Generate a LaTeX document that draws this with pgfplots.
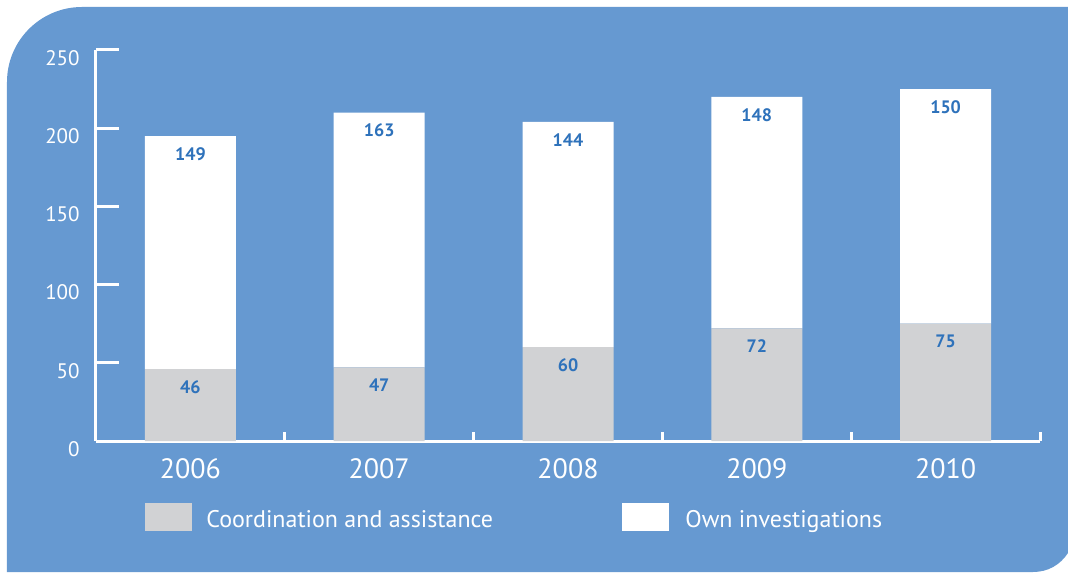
\documentclass[border=0pt]{standalone}
\usepackage{pgfplots}
\pgfplotsset{compat=1.18}
\usepackage{fontspec}
\setmainfont{PT Sans}
\definecolor{bgblue}{RGB}{102,153,209}
\definecolor{bargrey}{RGB}{209,210,212}
\definecolor{lblblue}{RGB}{46,114,187}
\pgfplotsset{common/.style={
  at={(0,0)}, anchor=south west,
  scale only axis, width=472pt, height=195.5pt,
  xmin=-0.5, xmax=4.5, ymin=0, ymax=250, clip=false}}
\begin{document}
\begin{tikzpicture}[x=1pt,y=1pt]
\useasboundingbox (-48,-65.5) rectangle (486,220.5);
\fill[bgblue] (-44.5,-65.5) -- (-44.5,179.5) arc[start angle=180,end angle=90,radius=37.5] -- (486,217) -- (486,-56) .. controls (482,-62) and (476,-65.5) .. (468.5,-65.5) -- cycle;
\begin{axis}[
  common,
  axis lines=left,
  axis line style={white, line width=1.5pt, -},
  ybar stacked, bar width=45.5pt,
  xtick={0,1,2,3,4}, xticklabels={2006,2007,2008,2009,2010},
  major x tick style={draw=none},
  ytick={0,50,...,250},
  /pgf/number format/assume math mode=true,
  major y tick style={white, line width=1.5pt},
  major tick length=11.5pt, tick align=inside,
  yticklabel style={anchor=north east, inner sep=0pt, xshift=-8pt, font=\fontsize{10.5}{12}\selectfont, text=white},
  xticklabel style={anchor=north, inner sep=0pt, yshift=-8.5pt, font=\fontsize{14}{16}\selectfont, text=white},
]
\addplot[fill=bargrey, draw=none] coordinates {(0,46) (1,47) (2,60) (3,72) (4,75)};
\addplot[fill=white, draw=none] coordinates {(0,149) (1,163) (2,144) (3,148) (4,150)};
\pgfplotsinvokeforeach{0.5,1.5,2.5,3.5,4.5}{\draw[white,line width=1.5pt] (axis cs:#1,0) -- ([yshift=4.5pt]axis cs:#1,0);}
\end{axis}
% overlay axis for value labels at the top of each segment
\begin{axis}[common, hide axis,
  nodes near coords, point meta=explicit symbolic,
  every node near coord/.style={anchor=north, inner sep=0pt, yshift=-5.5pt, font=\fontsize{9}{10}\selectfont\bfseries, text=lblblue}]
\addplot[draw=none, mark=none] coordinates {(0,46) [46] (1,47) [47] (2,60) [60] (3,72) [72] (4,75) [75]};
\addplot[draw=none, mark=none] coordinates {(0,195) [149] (1,210) [163] (2,204) [144] (3,220) [148] (4,225) [150]};
\end{axis}
\fill[bargrey] (24.5,-31) rectangle (48,-45);
\node[anchor=base west, inner sep=0pt, text=white, font=\fontsize{12}{14}\selectfont] at (55,-43) {Coordination and assistance};
\fill[white] (263,-31) rectangle (286.5,-45);
\node[anchor=base west, inner sep=0pt, text=white, font=\fontsize{12}{14}\selectfont] at (294.5,-43) {Own investigations};
\end{tikzpicture}
\end{document}
